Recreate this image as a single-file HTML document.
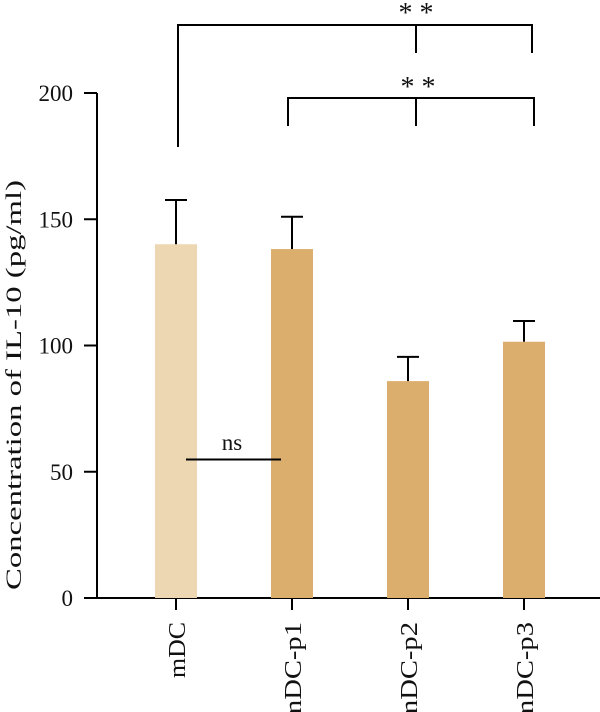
<!DOCTYPE html>
<html><head><meta charset="utf-8"><style>
html,body{margin:0;padding:0;background:#fff;}
svg{display:block;font-family:"Liberation Serif",serif;}
</style></head><body>
<svg id="chart" width="600" height="712" viewBox="0 0 600 712" xmlns="http://www.w3.org/2000/svg">
<g id="axes"></g>
<g id="bars"></g>
<g id="sig"></g>
<text transform="translate(21,385) rotate(-90)" text-anchor="middle" font-size="22" textLength="410" lengthAdjust="spacingAndGlyphs" fill="#111">Concentration of IL-10 (pg/ml)</text>
</svg>
<script>
const categories = ["mDC","mDC-p1","mDC-p2","mDC-p3"];
const means = [140.1, 138.2, 85.9, 101.5];
const errors = [17.5, 12.8, 9.6, 8.2];
const yTicks = [0, 50, 100, 150, 200];
const barColors = ["#edd6b2","#dcae6d","#dcae6d","#dcae6d"];

const NS = "http://www.w3.org/2000/svg";
const y0 = 598, yScale = 505/200;
const yPos = v => y0 - v*yScale;
const xPos = i => 176 + i*116;
const bw = 42;
function mk(tag, attrs, parent){const e=document.createElementNS(NS,tag);for(const k in attrs)e.setAttribute(k,attrs[k]);parent.appendChild(e);return e;}
const axes=document.getElementById('axes'), bars=document.getElementById('bars'), sig=document.getElementById('sig');

let l=mk('line',{x1:97,x2:97,y1:yPos(200),y2:y0,stroke:'#000','stroke-width':2},axes);


l=mk('line',{x1:84,x2:600,y1:y0,y2:y0,stroke:'#000','stroke-width':2},axes);


yTicks.forEach(t=>{
  const tk=mk('line',{x1:84,x2:97,y1:yPos(t),y2:yPos(t),stroke:'#000','stroke-width':2},axes);
  
  
  const tx=mk('text',{x:73,y:yPos(t)+8,'text-anchor':'end','font-size':23,fill:'#111'},axes);
  tx.textContent=t;
  
  
});
categories.forEach((c,i)=>{
  const x=xPos(i);
  const r=mk('rect',{x:x-bw/2,y:yPos(means[i]),width:bw,height:y0-yPos(means[i]),fill:barColors[i]},bars);
  
  
  const top=yPos(means[i]+errors[i]);
  const e1=mk('line',{x1:x,x2:x,y1:yPos(means[i]),y2:top,stroke:'#000','stroke-width':2},bars);
  
  
  const e2=mk('line',{x1:x-11,x2:x+11,y1:top,y2:top,stroke:'#000','stroke-width':2},bars);
  
  
  const tk=mk('line',{x1:x,x2:x,y1:y0,y2:y0+12,stroke:'#000','stroke-width':2},axes);
  
  
  const tx=mk('text',{transform:`translate(${x+9},${y0+24}) rotate(-90)`,'text-anchor':'end','font-size':24,fill:'#111',textLength:(c.length===3?56:100),lengthAdjust:'spacingAndGlyphs'},axes);
  tx.textContent=c;
  
  
});
function path(d,name){const p=mk('path',{d:d,fill:'none',stroke:'#000','stroke-width':2},sig);}
path('M178,147 V25 H532 V53 M416,25 V53','bracket-mdc-vs-p2-p3');
path('M288,126 V98 H534 V126 M416,98 V126','bracket-p1-vs-p2-p3');
path('M186,459.5 H281','ns-line');
function txt(x,y,s,name,fs){const t=mk('text',{x:x,y:y,'text-anchor':'middle','font-size':fs,fill:'#111'},sig);t.textContent=s;}
txt(416,22,'* *','sig-stars-top',28);
txt(418,96,'* *','sig-stars-middle',28);
txt(232,450,'ns','ns-label',23);
</script>
</body></html>
